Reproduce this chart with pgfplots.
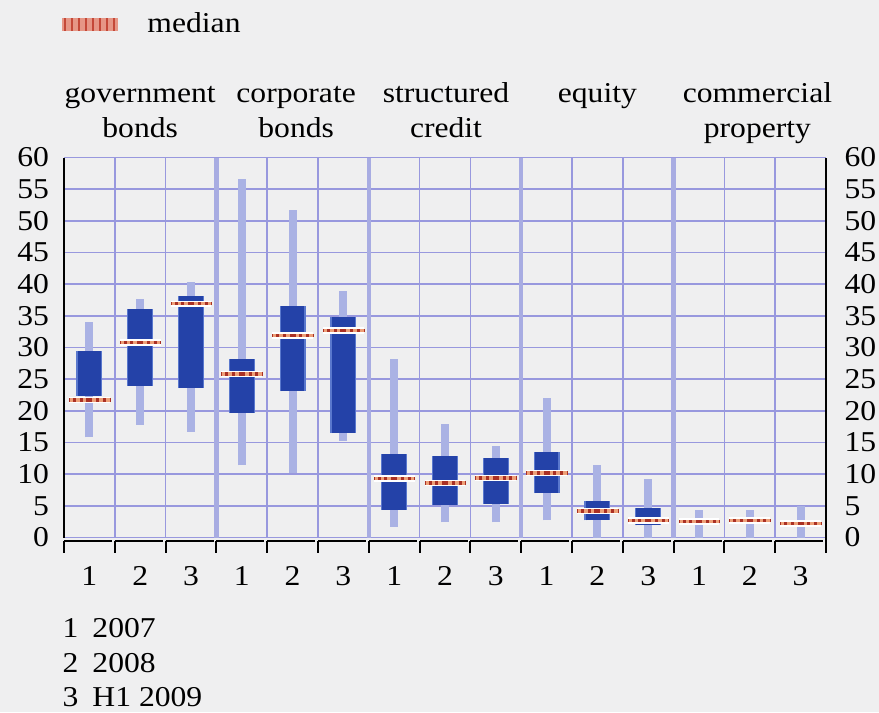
\documentclass[border=0pt]{standalone}
\usepackage{pgfplots}
\pgfplotsset{compat=1.18}
\usepackage{pgfplotstable}
\usepackage{fontspec}
\setmainfont{Liberation Serif}[FakeStretch=1.1]

\definecolor{bgc}{RGB}{239,239,240}
\definecolor{gridc}{RGB}{152,152,222}
\definecolor{sepc}{RGB}{168,172,226}
\definecolor{whisk}{RGB}{170,178,228}
\definecolor{boxc}{RGB}{36,66,168}
\definecolor{boxedge}{RGB}{90,120,205}
\definecolor{medlo}{RGB}{238,160,120}
\definecolor{medhi}{RGB}{170,48,36}

% c = category, wlo/whi = whisker ends, q1/q3 = box, med = median
\pgfplotstableread{
c  wlo  q1   med  q3   whi
1  15.8 22.4 21.7 29.5 34.1
2  17.8 24.0 30.8 36.1 37.7
3  16.7 23.6 36.9 38.1 40.3
4  11.4 19.7 25.8 28.2 56.6
5  10.2 23.1 31.9 36.5 51.7
6  15.3 16.5 32.7 34.8 39.0
7  1.7  4.4  9.3  13.2 28.2
8  2.4  5.1  8.6  12.8 18.0
9  2.4  5.3  9.4  12.5 14.5
10 2.7  7.0  10.2 13.5 22.1
11 0    2.7  4.2  5.7  11.5
12 0    1.9  2.7  4.7  9.3
13 0    2.5  2.5  2.5  4.4
14 0    2.7  2.7  2.7  4.3
15 0    2.2  2.2  2.2  4.9
}\stats

\begin{document}
\fontsize{11.5pt}{13.8pt}\selectfont
\begin{tikzpicture}
\path[use as bounding box, fill=bgc] (0,0) rectangle (351.6pt,284.8pt);

% legend at the top
\fill[color={rgb,255:red,230;green,150;blue,134}] (24.8pt,272.4pt) rectangle (47.2pt,277.6pt);
\draw[color={rgb,255:red,196;green,72;blue,56}, line width=5.2pt, dash pattern=on 1pt off 1.8pt] (25.4pt,275pt) -- (47.2pt,275pt);
\node[anchor=base west, inner sep=0] at (58.8pt,272pt) {median};

\begin{axis}[
  at={(25.6pt,69.8pt)}, anchor=south west, scale only axis,
  width=304.8pt, height=152pt,
  xmin=0.5, xmax=15.5, ymin=0, ymax=60,
  axis x line*=bottom, axis y line*=box,
  axis line style={black, line width=0.8pt},
  axis x line shift=1.4pt,
  x axis line style={dash pattern=on 19.2pt off 1.12pt},
  xtick={0.5,1.5,...,15.5},
  xticklabels={1,2,3,1,2,3,1,2,3,1,2,3,1,2,3},
  x tick label as interval,
  ytick={0,5,...,60},
  xmajorgrids, ymajorgrids,
  major grid style={gridc, line width=0.6pt},
  tick align=outside,
  major tick length=4.6pt,
  x tick style={black, line width=0.8pt},
  ytick style={draw=none},
  xticklabel style={anchor=base, yshift=-13.2pt},
  yticklabel style={xshift=2.6pt},
  /pgf/number format/assume math mode=true,
  extra x ticks={3.5,6.5,9.5,12.5}, extra x tick labels={},
  extra x tick style={grid=major, major grid style={sepc, line width=1.8pt}},
  clip=false,
]
% whiskers
\addplot[draw=none, mark=none, error bars/.cd, y dir=plus, y explicit, error mark=none,
  error bar style={draw=whisk, line width=3.2pt}]
  table[x=c, y=wlo, y error expr=\thisrow{whi}-\thisrow{wlo}] {\stats};
% boxes (light edge, then dark body)
\addplot[draw=none, mark=none, error bars/.cd, y dir=plus, y explicit, error mark=none,
  error bar style={draw=boxedge, line width=10.4pt}]
  table[x=c, y=q1, y error expr=\thisrow{q3}-\thisrow{q1}] {\stats};
\addplot[draw=none, mark=none, error bars/.cd, y dir=plus, y explicit, error mark=none,
  error bar style={draw=boxc, line width=9.4pt}]
  table[x=c, y=q1, y error expr=\thisrow{q3}-\thisrow{q1}] {\stats};
% medians
\addplot[draw=none, mark=none, error bars/.cd, x dir=both, x fixed=0.4, error mark=none,
  error bar style={draw=white, line width=2.6pt}]
  table[x=c, y=med] {\stats};
\addplot[draw=none, mark=none, error bars/.cd, x dir=both, x fixed=0.4, error mark=none,
  error bar style={draw=medlo, line width=1.3pt}]
  table[x=c, y=med] {\stats};
\addplot[draw=none, mark=none, error bars/.cd, x dir=both, x fixed=0.4, error mark=none,
  error bar style={draw=medhi, line width=1.3pt, dash pattern=on 1.2pt off 1.5pt}]
  table[x=c, y=med] {\stats};

% group labels
\node[anchor=base, inner sep=0, yshift=22.2pt] at (axis cs:2,60) {government};
\node[anchor=base, inner sep=0, yshift=8.2pt] at (axis cs:2,60) {bonds};
\node[anchor=base, inner sep=0, yshift=22.2pt] at (axis cs:5.07,60) {corporate};
\node[anchor=base, inner sep=0, yshift=8.2pt] at (axis cs:5.07,60) {bonds};
\node[anchor=base, inner sep=0, yshift=22.2pt] at (axis cs:8.02,60) {structured};
\node[anchor=base, inner sep=0, yshift=8.2pt] at (axis cs:8.02,60) {credit};
\node[anchor=base, inner sep=0, yshift=22.2pt] at (axis cs:11,60) {equity};
\node[anchor=base, inner sep=0, yshift=22.2pt] at (axis cs:14.15,60) {commercial};
\node[anchor=base, inner sep=0, yshift=8.2pt] at (axis cs:14.15,60) {property};
\end{axis}

% right-hand scale
\begin{axis}[
  at={(25.6pt,69.8pt)}, anchor=south west, scale only axis,
  width=304.8pt, height=152pt,
  xmin=0.5, xmax=15.5, ymin=0, ymax=60,
  axis x line=none, axis y line*=right,
  axis line style={black, line width=0.8pt},
  ytick={0,5,...,60}, ytick style={draw=none},
  yticklabel pos=right,
  yticklabel style={xshift=3.4pt},
  /pgf/number format/assume math mode=true,
  clip=false,
]
\addplot[draw=none, mark=none] coordinates {(1,0)};
\draw[black, line width=0.8pt] (rel axis cs:1,0) -- ++(0pt,-6pt);
\end{axis}

% bottom key
\node[anchor=base west, inner sep=0] at (24.8pt,30pt) {1};
\node[anchor=base west, inner sep=0] at (36.8pt,30pt) {2007};
\node[anchor=base west, inner sep=0] at (24.8pt,16pt) {2};
\node[anchor=base west, inner sep=0] at (36.8pt,16pt) {2008};
\node[anchor=base west, inner sep=0] at (24.8pt,2.4pt) {3};
\node[anchor=base west, inner sep=0] at (36.8pt,2.4pt) {H1 2009};
\end{tikzpicture}
\end{document}
